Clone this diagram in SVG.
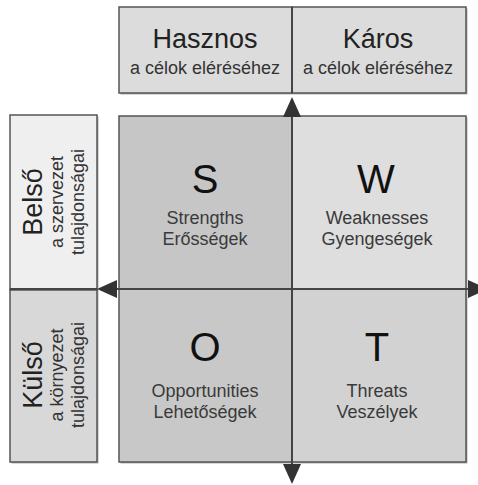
<svg xmlns="http://www.w3.org/2000/svg" width="478" height="485" viewBox="0 0 478 485">
  <defs>
    <style>
      .box { stroke: #555; stroke-width: 1.5; }
      .shadow { fill: #b0b0b0; }
      .head { font-family: "Liberation Sans", Arial, sans-serif; font-size: 27px; fill: #222; text-anchor: middle; }
      .sub { font-family: "Liberation Sans", Arial, sans-serif; font-size: 18px; fill: #333; text-anchor: middle; }
      .big { font-family: "Liberation Sans", Arial, sans-serif; font-size: 40px; fill: #111; text-anchor: middle; }
      .lbl { font-family: "Liberation Sans", Arial, sans-serif; font-size: 18px; fill: #3a3a3a; text-anchor: middle; }
      .axis { stroke: #444; stroke-width: 2; fill: none; }
    </style>
    <marker id="arrow" viewBox="0 0 20 18" markerWidth="20" markerHeight="18" refX="14" refY="9" markerUnits="userSpaceOnUse" orient="auto-start-reverse">
      <path d="M0,0 L20,9 L0,18 Z" fill="#333"/>
    </marker>
  </defs>

  <rect width="478" height="485" fill="#fff"/>

  <!-- column headers -->
  <g id="hasznos">
    <rect class="shadow" x="120.5" y="8.5" width="173" height="86"/>
    <rect class="box" x="119" y="7" width="173" height="86" fill="#dcdcdc"/>
    <text class="head" x="205" y="48">Hasznos</text>
    <text class="sub" x="205" y="74">a célok eléréséhez</text>
  </g>
  <g id="karos">
    <rect class="shadow" x="293.5" y="8.5" width="174" height="86"/>
    <rect class="box" x="292" y="7" width="174" height="86" fill="#dcdcdc"/>
    <text class="head" x="378" y="48">Káros</text>
    <text class="sub" x="378" y="74">a célok eléréséhez</text>
  </g>

  <!-- row headers -->
  <g id="belso">
    <rect class="shadow" x="11.5" y="116.5" width="87" height="175"/>
    <rect class="box" x="10" y="115" width="87" height="175" fill="#efefef"/>
    <text class="head" transform="translate(42,202) rotate(-90)">Belső</text>
    <text class="sub" transform="translate(63,202) rotate(-90)">a szervezet</text>
    <text class="sub" transform="translate(84,202) rotate(-90)">tulajdonságai</text>
  </g>
  <g id="kulso">
    <rect class="shadow" x="11.5" y="291.5" width="87" height="172"/>
    <rect class="box" x="10" y="290" width="87" height="172" fill="#d8d8d8"/>
    <text class="head" transform="translate(42,375) rotate(-90)">Külső</text>
    <text class="sub" transform="translate(63,375) rotate(-90)">a környezet</text>
    <text class="sub" transform="translate(84,375) rotate(-90)">tulajdonságai</text>
  </g>

  <!-- SWOT quadrants -->
  <g id="strengths">
    <rect class="shadow" x="120.5" y="117.5" width="173" height="173"/>
    <rect class="box" x="119" y="116" width="173" height="173" fill="#c6c6c6"/>
    <text class="big" x="205" y="193">S</text>
    <text class="lbl" x="205" y="224">Strengths</text>
    <text class="lbl" x="205" y="245">Erősségek</text>
  </g>
  <g id="weaknesses">
    <rect class="shadow" x="293.5" y="117.5" width="174" height="173"/>
    <rect class="box" x="292" y="116" width="174" height="173" fill="#dedede"/>
    <text class="big" x="376" y="193">W</text>
    <text class="lbl" x="377" y="224">Weaknesses</text>
    <text class="lbl" x="377" y="245">Gyengeségek</text>
  </g>
  <g id="opportunities">
    <rect class="shadow" x="120.5" y="290.5" width="173" height="173"/>
    <rect class="box" x="119" y="289" width="173" height="173" fill="#c8c8c8"/>
    <text class="big" x="205" y="361">O</text>
    <text class="lbl" x="205" y="397">Opportunities</text>
    <text class="lbl" x="205" y="418">Lehetőségek</text>
  </g>
  <g id="threats">
    <rect class="shadow" x="293.5" y="290.5" width="174" height="173"/>
    <rect class="box" x="292" y="289" width="174" height="173" fill="#d2d2d2"/>
    <text class="big" x="377" y="361">T</text>
    <text class="lbl" x="377" y="397">Threats</text>
    <text class="lbl" x="377" y="418">Veszélyek</text>
  </g>

  <!-- axes -->
  <g id="connectors">
    <line class="axis" x1="292" y1="7" x2="292" y2="93"/>
    <path class="axis" d="M292,103 L292,478" marker-start="url(#arrow)" marker-end="url(#arrow)"/>
    <line class="axis" x1="10" y1="289" x2="97" y2="289"/>
    <path class="axis" d="M103,289 L482,289" marker-start="url(#arrow)" marker-end="url(#arrow)"/>
  </g>
</svg>
